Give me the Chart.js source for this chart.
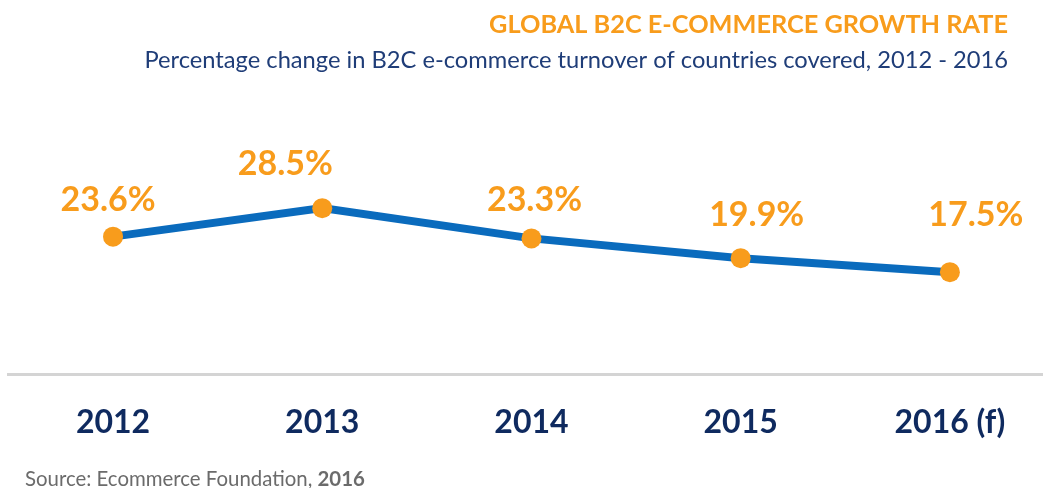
<!DOCTYPE html>
<html><head><meta charset="utf-8">
<script src="https://cdn.jsdelivr.net/npm/chart.js@4"></script>
<style>html,body{margin:0;padding:0;background:#fff;}#wrap{width:1043px;height:488px;position:relative;}</style>
</head><body><div id="wrap"><canvas id="c" width="1043" height="488"></canvas></div>
<script>
const categories = ['2012', '2013', '2014', '2015', '2016 (f)'];
const growthRate = [23.6, 28.5, 23.3, 19.9, 17.5];
const labelNudge = [[-5, -37], [-37, -44], [3, -38], [16, -43], [26, -57]];
const titleText = 'GLOBAL B2C E-COMMERCE GROWTH RATE';
const subtitleText = 'Percentage change in B2C e-commerce turnover of countries covered, 2012 - 2016';

const ORANGE = '#f89c1c';
const BLUE = '#0a6bbd';
const NAVY = '#0f2a5f';
const FONT = 'Lato, "Open Sans", sans-serif';

const decor = {
  id: 'decor',
  afterDraw(chart) {
    const ctx = chart.ctx;
    ctx.save();
    ctx.textAlign = 'right';
    ctx.textBaseline = 'middle';
    ctx.fillStyle = ORANGE;
    ctx.font = 'bold 25.3px ' + FONT;
    ctx.fillText(titleText, 1008, 25);
    ctx.fillStyle = '#1f3d78';
    ctx.font = '23.7px ' + FONT;
    ctx.fillText(subtitleText, 1008, 60);
    ctx.textAlign = 'left';
    ctx.fillStyle = '#6b6b6b';
    ctx.font = '20.4px ' + FONT;
    const s1 = 'Source: Ecommerce Foundation, ';
    ctx.fillText(s1, 25, 479);
    const w = ctx.measureText(s1).width;
    ctx.font = 'bold 20.4px ' + FONT;
    ctx.fillText('2016', 25 + w, 479);
    ctx.restore();
  },
  afterDatasetsDraw(chart) {
    const ctx = chart.ctx;
    const meta = chart.getDatasetMeta(0);
    ctx.save();
    ctx.fillStyle = ORANGE;
    ctx.font = 'bold 34px ' + FONT;
    ctx.textAlign = 'center';
    ctx.textBaseline = 'middle';
    meta.data.forEach((pt, i) => {
      const [dx, dy] = labelNudge[i];
      ctx.fillText(growthRate[i].toFixed(1) + '%', pt.x + dx, pt.y + dy);
    });
    ctx.restore();
  }
};

new Chart(document.getElementById('c'), {
  type: 'line',
  data: {
    datasets: [{
      data: growthRate.map((v, i) => ({ x: i, y: v })),
      borderColor: BLUE,
      borderWidth: 8,
      pointRadius: 10,
      pointBackgroundColor: ORANGE,
      pointBorderColor: ORANGE,
      pointBorderWidth: 0,
      tension: 0,
      clip: false
    }]
  },
  options: {
    responsive: false,
    animation: false,
    events: [],
    layout: { autoPadding: false, padding: { top: 83, left: 8, right: 0, bottom: 34 } },
    plugins: { legend: { display: false }, tooltip: { enabled: false } },
    scales: {
      x: {
        type: 'linear',
        min: -0.502,
        max: 4.445,
        afterBuildTicks(scale) { scale.ticks = categories.map((c, i) => ({ value: i })); },
        afterFit(scale) { scale.height = 80; scale.paddingLeft = 0; scale.paddingRight = 0; },
        grid: { display: false, drawTicks: false },
        border: { display: true, color: '#d4d4d4', width: 3 },
        ticks: {
          padding: 29,
          autoSkip: false,
          maxRotation: 0,
          color: NAVY,
          font: { family: FONT, weight: 'bold', size: 32 },
          callback: (v) => categories[v]
        }
      },
      y: { display: false, min: 0, max: 50 }
    }
  },
  plugins: [decor]
});
</script></body></html>
